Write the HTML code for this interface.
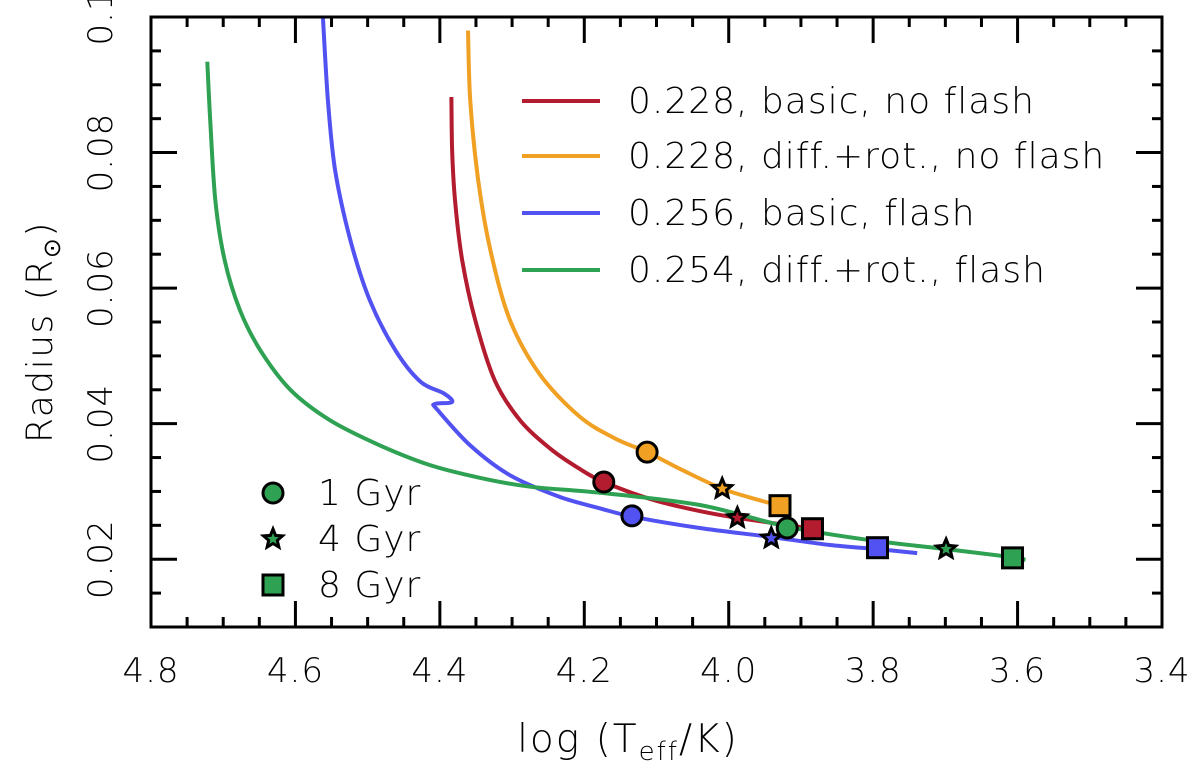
<!DOCTYPE html>
<html><head><meta charset="utf-8"><style>
html,body{margin:0;padding:0;background:#fff}
svg text{font-family:"DejaVu Sans","Liberation Sans",sans-serif;fill:#000;font-weight:300}
</style></head><body>
<svg id="chart" width="1200" height="765" viewBox="0 0 1200 765" xmlns="http://www.w3.org/2000/svg">
<g id="plot"></g>
</svg>
<script>
const xTicks = [4.8, 4.6, 4.4, 4.2, 4.0, 3.8, 3.6, 3.4];
const xTickLabels = ["4.8","4.6","4.4","4.2","4.0","3.8","3.6","3.4"];
const yTicks = [0.02, 0.04, 0.06, 0.08, 0.1];
const yTickLabels = ["0.02","0.04","0.06","0.08","0.1"];
const seriesNames = ["0.228, basic, no flash","0.228, diff.+rot., no flash","0.256, basic, flash","0.254, diff.+rot., flash"];
const seriesColors = ["#b31b2e","#f0a023","#5252f2","#2fa152"];
const redT = [4.384,4.383,4.379,4.369,4.351,4.324,4.289,4.247,4.206,4.173,4.109,4.04,3.988,3.884];
const redR = [0.0882,0.0804,0.073,0.0641,0.0553,0.0464,0.0405,0.0363,0.0333,0.0314,0.0289,0.0271,0.0261,0.0245];
const orangeT = [4.361,4.358,4.347,4.33,4.303,4.261,4.206,4.157,4.113,4.067,4.009,3.957,3.929];
const orangeR = [0.098,0.0878,0.076,0.0656,0.0553,0.0472,0.041,0.0378,0.0358,0.0333,0.0304,0.0287,0.0279];
const blueT = [4.562,4.555,4.545,4.524,4.497,4.462,4.427,4.395,4.383,4.407,4.403,4.358,4.303,4.234,4.178,4.134,4.04,3.943,3.86,3.794,3.739];
const blueR = [0.1,0.0877,0.0774,0.0671,0.0582,0.0509,0.0462,0.0445,0.0432,0.0429,0.042,0.0368,0.0324,0.0292,0.0275,0.0263,0.0246,0.0233,0.0221,0.0215,0.0209];
const greenT = [4.722,4.718,4.711,4.698,4.677,4.649,4.607,4.552,4.483,4.414,4.344,4.275,4.178,4.04,3.919,3.804,3.699,3.607,3.589];
const greenR = [0.0934,0.0848,0.073,0.0641,0.0568,0.0509,0.045,0.0405,0.0368,0.0339,0.032,0.0307,0.0298,0.028,0.0248,0.0228,0.0215,0.0203,0.0199];
// markers [1 Gyr, 4 Gyr, 8 Gyr] per series (red, orange, blue, green)
const markT = [[4.173,3.988,3.884],[4.113,4.009,3.929],[4.134,3.941,3.794],[3.919,3.699,3.607]];
const markR = [[0.0314,0.0261,0.0245],[0.0358,0.0304,0.0279],[0.0264,0.0231,0.0217],[0.0246,0.0215,0.0202]];
const ageLabels = ["1 Gyr","4 Gyr","8 Gyr"];

const L=151,R=1162,T=17,B=627;
const X0=4.8,X1=3.4,Y0=0.01,Y1=0.1;
const xs=v=>L+(X0-v)/(X0-X1)*(R-L);
const ys=v=>B-(v-Y0)/(Y1-Y0)*(B-T);
const NS="http://www.w3.org/2000/svg";
const svg=document.getElementById('chart');
function mk(tag,attrs,parent){const e=document.createElementNS(NS,tag);for(const k in attrs)e.setAttribute(k,attrs[k]);(parent||svg).appendChild(e);return e;}

const defs=mk('defs',{});
const cp=mk('clipPath',{id:'clip'},defs);
mk('rect',{x:L,y:T,width:R-L,height:B-T},cp);

function smoothPath(P){
  let d='M'+P[0][0].toFixed(1)+','+P[0][1].toFixed(1);
  for(let i=0;i<P.length-1;i++){
    const p0=P[Math.max(0,i-1)],p1=P[i],p2=P[i+1],p3=P[Math.min(P.length-1,i+2)];
    const t=0.16;
    const c1=[p1[0]+(p2[0]-p0[0])*t,p1[1]+(p2[1]-p0[1])*t];
    const c2=[p2[0]-(p3[0]-p1[0])*t,p2[1]-(p3[1]-p1[1])*t];
    d+='C'+c1[0].toFixed(1)+','+c1[1].toFixed(1)+' '+c2[0].toFixed(1)+','+c2[1].toFixed(1)+' '+p2[0].toFixed(1)+','+p2[1].toFixed(1);
  }
  return d;
}

const lines=[[redT,redR],[orangeT,orangeR],[blueT,blueR],[greenT,greenR]];
const lineNames=['red-line','orange-line','blue-line','green-line'];
const drawOrder=[1,0,2,3];
drawOrder.forEach(i=>{
  const [tt,rr]=lines[i];
  const P=tt.map((t,j)=>[xs(t),ys(rr[j])]);
  const p=mk('path',{d:smoothPath(P),fill:'none',stroke:seriesColors[i],'stroke-width':4,'stroke-linejoin':'round','clip-path':'url(#clip)'});
  
  
});

function starPath(cx,cy,ro,ri){let d='';for(let k=0;k<10;k++){const a=-Math.PI/2+k*Math.PI/5;const r=k%2?ri:ro;d+=(k?'L':'M')+(cx+r*Math.cos(a)).toFixed(1)+','+(cy+r*Math.sin(a)).toFixed(1);}return d+'Z';}
function marker(type,cx,cy,col){
  if(type===0) return mk('circle',{cx:cx,cy:cy,r:10,fill:col,stroke:'#000','stroke-width':3});
  if(type===1) return mk('path',{d:starPath(cx,cy,10,4.5),fill:col,stroke:'#000','stroke-width':3,'stroke-linejoin':'miter'});
  return mk('rect',{x:cx-10,y:cy-10,width:20,height:20,fill:col,stroke:'#000','stroke-width':3});
}
const serKeys=['red','orange','blue','green'];
const ageKeys=['1gyr','4gyr','8gyr'];
for(let i=0;i<4;i++)for(let a=0;a<3;a++){
  const m=marker(a,xs(markT[i][a]),ys(markR[i][a]),seriesColors[i]);
  
  
}

const fr=mk('rect',{x:L,y:T,width:R-L,height:B-T,fill:'none',stroke:'#000','stroke-width':3});



for(let v=4.8;v>=3.399;v-=0.05){
  const x=xs(v);const major=Math.abs(v*5-Math.round(v*5))<1e-6;const len=major?26:10;
  mk('line',{x1:x,y1:B,x2:x,y2:B-len,stroke:'#000','stroke-width':3});
  mk('line',{x1:x,y1:T,x2:x,y2:T+len,stroke:'#000','stroke-width':3});
}
xTicks.forEach((v,i)=>{
  const t=mk('text',{x:xs(v),y:682,'text-anchor':'middle','font-size':34,'letter-spacing':1});
  t.textContent=xTickLabels[i];
  
  
});
for(let v=0.01;v<=0.1001;v+=0.005){
  const y=ys(v);const major=Math.abs(v*50-Math.round(v*50))<1e-6;const len=major?26:10;
  mk('line',{x1:L,y1:y,x2:L+len,y2:y,stroke:'#000','stroke-width':3});
  mk('line',{x1:R,y1:y,x2:R-len,y2:y,stroke:'#000','stroke-width':3});
}
yTicks.forEach((v,i)=>{
  const y=ys(v);
  const t=mk('text',{x:0,y:0,'text-anchor':'middle','font-size':34,'letter-spacing':1,transform:`translate(112,${y}) rotate(-90)`});
  t.textContent=yTickLabels[i];
  
  
});
const xt=mk('text',{x:628,y:752,'text-anchor':'middle','font-size':39,'letter-spacing':2});
xt.innerHTML='log (T<tspan font-size="26" dy="8">eff</tspan><tspan dy="-8">/K)</tspan>';


const yt=mk('text',{x:0,y:0,'text-anchor':'middle','font-size':36,'letter-spacing':1.5,transform:'translate(52,332) rotate(-90)'});
yt.innerHTML='Radius (R<tspan font-size="24" dy="8">⊙</tspan><tspan dy="-8">)</tspan>';



const legY=[101,156,213,270];
for(let i=0;i<4;i++){
  const ln=mk('line',{x1:522,y1:legY[i],x2:600,y2:legY[i],stroke:seriesColors[i],'stroke-width':4});
  
  
  const tx=mk('text',{x:628,y:legY[i]+12,'font-size':36,'letter-spacing':1});
  tx.textContent=seriesNames[i];
  
  
}
const ageY=[493,539,585];
for(let a=0;a<3;a++){
  const m=marker(a,273,ageY[a],seriesColors[3]);
  
  
  const tx=mk('text',{x:318,y:ageY[a]+12,'font-size':36,'letter-spacing':1});
  tx.textContent=ageLabels[a];
  
  
}
</script>
</body></html>
